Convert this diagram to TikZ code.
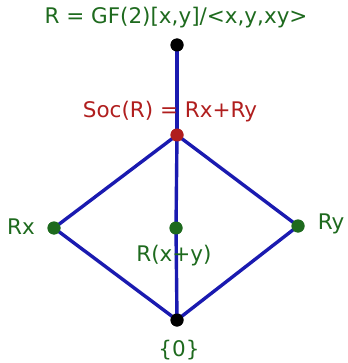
\documentclass[tikz,border=0pt]{standalone}
\usepackage{fontspec}
\setmainfont{DejaVu Sans}
\usepackage{tikz}
\definecolor{latGreen}{HTML}{1E6A1E}
\definecolor{latRed}{HTML}{B01E1E}
\definecolor{latBlue}{HTML}{1A1AB0}

\begin{document}
\begin{tikzpicture}[x=1pt, y=-1pt,
    dot/.style={circle, fill=#1, inner sep=0pt, minimum size=13pt},
    edge/.style={latBlue, line width=3.4pt},
    lbl/.style={font=\fontsize{21.5}{24}\selectfont, inner sep=0pt}]
    \useasboundingbox (0,0) rectangle (347,363);
    % lattice points
    \node[dot=black] (top) at (177,45) {};
    \node[dot=latRed] (soc) at (177,135) {};
    \node[dot=latGreen] (rx) at (54,228) {};
    \node[dot=latGreen] (rxy) at (176,228) {};
    \node[dot=latGreen] (ry) at (298,226) {};
    \node[dot=black] (zero) at (177,320) {};
    % edges
    \draw[edge] (top.center) -- (soc.center);
    \draw[edge] (soc.center) -- (rx.center) -- (zero.center);
    \draw[edge] (soc.center) -- (ry.center) -- (zero.center);
    \draw[edge] (soc.center) -- (rxy.center) -- (zero.center);
    % redraw points on top
    \foreach \n/\c in {top/black, soc/latRed, rx/latGreen, rxy/latGreen, ry/latGreen, zero/black}
        \fill[\c] (\n) circle (6.5pt);
    % labels
    \node[lbl, latGreen] (ringlbl) at (176,18) {R = GF(2)[x,y]/<x,y,xy>};
    \node[lbl, latRed] (soclbl) at (170,112) {Soc(R) = Rx+Ry};
    \node[lbl, latGreen] (rxlbl) at (21,227) {Rx};
    \node[lbl, latGreen] (rylbl) at (331,224) {Ry};
    \node[lbl, latGreen] (rxylbl) at (174,256) {R(x+y)};
    \node[lbl, latGreen] (zerolbl) at (179,350) {\{0\}};
\end{tikzpicture}
\end{document}
